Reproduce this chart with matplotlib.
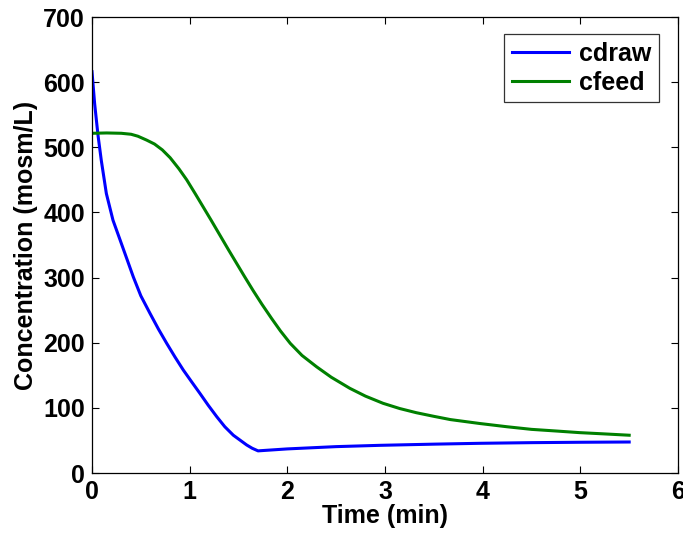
import matplotlib
matplotlib.use("Agg")
import matplotlib.pyplot as plt

# cdraw series (time in min, concentration mosm/L)
t_draw = [0.0, 0.027, 0.061, 0.095, 0.147, 0.215, 0.287, 0.361, 0.423, 0.50, 0.594, 0.68, 0.765,
          0.85, 0.935, 1.02, 1.106, 1.19, 1.277, 1.36, 1.447, 1.52, 1.584, 1.64, 1.70,
          2.0, 2.5, 2.95, 3.5, 3.97, 4.5, 5.0, 5.5]
c_draw = [616, 567, 519, 480, 429, 388, 358, 327, 301, 272, 245, 221, 199,
          178, 158, 140, 122, 104, 86.5, 71, 58, 50, 43, 38, 34,
          37, 40.5, 42.5, 44.3, 45.6, 46.6, 47.2, 47.6]

# cfeed series
t_feed = [0.0, 0.15, 0.30, 0.40, 0.47, 0.56, 0.64, 0.72, 0.80, 0.89, 0.97, 1.06, 1.14, 1.22, 1.31,
          1.40, 1.48, 1.56, 1.65, 1.74, 1.84, 1.93, 2.03, 2.15, 2.30, 2.45, 2.64, 2.80, 2.98,
          3.15, 3.32, 3.50, 3.67, 3.97, 4.25, 4.5, 4.75, 4.99, 5.25, 5.5]
c_feed = [521.5, 522, 521.5, 520, 517, 511, 505, 496, 484, 467, 450, 428, 408, 388, 365,
          342, 322, 302, 280, 259, 237, 218, 199, 180.5, 163, 147, 130, 118, 107,
          99, 92.6, 87, 82, 76, 71, 67, 64.5, 62, 60, 58]

plt.rcParams['font.family'] = ['Liberation Sans', 'DejaVu Sans']
plt.rcParams['font.weight'] = 'bold'

fig = plt.figure(figsize=(6.83, 5.38), dpi=100)
ax = fig.add_axes([0.1347, 0.1208, 0.858, 0.8476])

ax.plot(t_draw, c_draw, color=(0, 0, 1), lw=2.2, label='cdraw', solid_joinstyle='round')
ax.plot(t_feed, c_feed, color=(0, 0.5, 0), lw=2.2, label='cfeed', solid_joinstyle='round')

ax.set_xlim(0, 6)
ax.set_ylim(0, 700)
ax.set_xticks(range(0, 7))
ax.set_yticks(range(0, 701, 100))
ax.tick_params(direction='in', top=True, right=True, length=5, width=0.8,
               labelsize=18, pad=5)
for lab in ax.get_xticklabels() + ax.get_yticklabels():
    lab.set_fontweight('bold')
for s in ax.spines.values():
    s.set_linewidth(0.9)

ax.set_xlabel('Time (min)', fontsize=18, fontweight='bold', labelpad=0)
ax.set_ylabel('Concentration (mosm/L)', fontsize=18, fontweight='bold', labelpad=4)

leg = ax.legend(loc='upper right', bbox_to_anchor=(0.968, 0.962), fontsize=18,
                frameon=True, fancybox=False, edgecolor='black', borderpad=0.3,
                handlelength=2.3, handletextpad=0.4, labelspacing=0.2, borderaxespad=0)
leg.get_frame().set_linewidth(0.9)
for txt in leg.get_texts():
    txt.set_fontweight('bold')

fig.savefig('out.png', dpi=100)
